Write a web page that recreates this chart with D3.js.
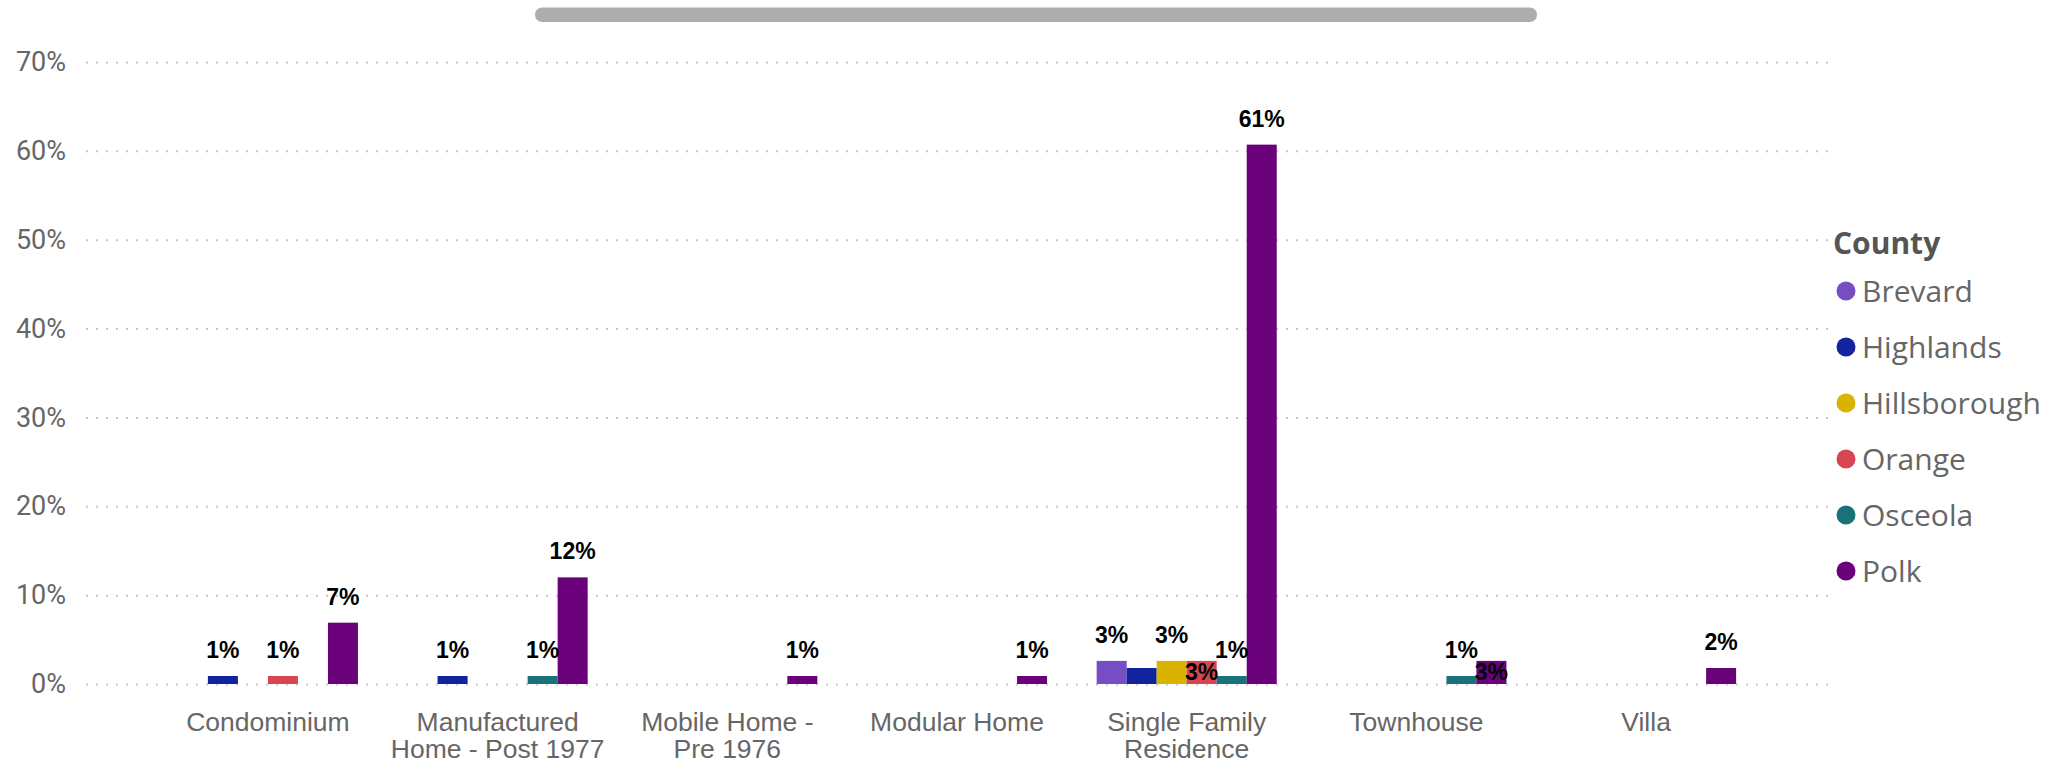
<!DOCTYPE html>
<html>
<head>
<meta charset="utf-8">
<script src="https://cdn.jsdelivr.net/npm/d3@7"></script>
<style>
  html, body { margin: 0; padding: 0; background: #fff; }
  svg { display: block; }
</style>
</head>
<body>
<svg id="chart" width="2069" height="763"></svg>
<script>
// ---- data ----
const categories = ["Condominium", "Manufactured Home - Post 1977", "Mobile Home - Pre 1976", "Modular Home", "Single Family Residence", "Townhouse", "Villa"];
const categoryLines = [["Condominium"], ["Manufactured", "Home - Post 1977"], ["Mobile Home -", "Pre 1976"], ["Modular Home"], ["Single Family", "Residence"], ["Townhouse"], ["Villa"]];
const counties = ["Brevard", "Highlands", "Hillsborough", "Orange", "Osceola", "Polk"];
const brevard      = [0,     0,     0,     0,     0.026, 0,     0];
const highlands    = [0.009, 0.009, 0,     0,     0.018, 0,     0];
const hillsborough = [0,     0,     0,     0,     0.026, 0,     0];
const orange       = [0.009, 0,     0,     0,     0.026, 0,     0];
const osceola      = [0,     0.009, 0,     0,     0.009, 0.009, 0];
const polk         = [0.069, 0.12,  0.009, 0.009, 0.607, 0.026, 0.018];
const yTicks = [0, 0.1, 0.2, 0.3, 0.4, 0.5, 0.6, 0.7];
const colors = ["#744EC2", "#12239E", "#D9B300", "#D64550", "#197278", "#6B007B"];

const seriesValues = [brevard, highlands, hillsborough, orange, osceola, polk];

// ---- layout ----
const svg = d3.select("#chart");
const plotLeft = 86, plotRight = 1828, plotTop = 62, plotBottom = 684;

// scrollbar
svg.append("rect").attr("x", 535).attr("y", 7.5).attr("width", 1002).attr("height", 14.5)
  .attr("rx", 7.25).attr("fill", "#adadad");

const x0 = d3.scaleBand().domain(categories).range([plotLeft, plotRight]).paddingInner(0.216).paddingOuter(0.4);
const x1 = d3.scaleBand().domain(counties).range([0, x0.bandwidth()]).padding(0);
const y = d3.scaleLinear().domain([0, 0.7]).range([plotBottom, plotTop]);
const color = d3.scaleOrdinal().domain(counties).range(colors);

// y axis + grid
const yAxis = svg.append("g").attr("transform", `translate(${plotLeft},0)`)
  .call(d3.axisLeft(y).tickValues(yTicks).tickFormat(d3.format(".0%"))
    .tickSize(-(plotRight - plotLeft)).tickPadding(20));
yAxis.select(".domain").remove();
yAxis.selectAll(".tick line").attr("stroke", "#c8c8c8").attr("stroke-width", 2)
  .attr("stroke-dasharray", "2,8");
yAxis.selectAll(".tick text").attr("fill", "#666").attr("font-size", 27)
  .attr("font-family", "Roboto, 'Liberation Sans', Arial, sans-serif");

// x axis
const xAxis = svg.append("g").attr("transform", `translate(0,${plotBottom})`)
  .call(d3.axisBottom(x0).tickSize(0).tickPadding(0));
xAxis.select(".domain").remove();
xAxis.selectAll(".tick text").each(function(d) {
  const t = d3.select(this);
  t.text(null).attr("y", 0).attr("dy", null)
    .attr("fill", "#666").attr("font-size", 26.5)
    .attr("font-family", "'Liberation Sans', Arial, sans-serif");
  categoryLines[categories.indexOf(d)].forEach((line, k) => {
    t.append("tspan").attr("x", 0).attr("y", 47 + k * 27).text(line);
  });
});

// bars
const data = [];
categories.forEach((c, ci) => {
  counties.forEach((s, si) => {
    const v = seriesValues[si][ci];
    if (v > 0) data.push({ cat: c, county: s, value: v });
  });
});

const barG = svg.append("g");
barG.selectAll("rect").data(data).join("rect")
  .attr("x", d => x0(d.cat) + x1(d.county))
  .attr("y", d => y(d.value))
  .attr("width", x1.bandwidth())
  .attr("height", d => plotBottom - y(d.value))
  .attr("fill", d => color(d.county));

// data labels with simple collision handling
const fmt = d3.format(".0%");
const labelG = svg.append("g");
const placed = [];
function overlaps(b) {
  return placed.some(p => b.x1 < p.x2 && b.x2 > p.x1 && b.y1 < p.y2 && b.y2 > p.y1);
}
data.forEach(d => {
  const cx = x0(d.cat) + x1(d.county) + x1.bandwidth() / 2;
  const yt = y(d.value);
  const t = labelG.append("text")
    .attr("x", cx).attr("text-anchor", "middle")
    .attr("font-family", "'Liberation Sans', Arial, sans-serif")
    .attr("font-weight", "bold").attr("font-size", 23).attr("fill", "#000")
    .text(fmt(d.value));
  const w = t.node().getComputedTextLength();
  const h = 17;
  const above = { x1: cx - w / 2, x2: cx + w / 2, y1: yt - 18 - h, y2: yt - 18 };
  if (!overlaps(above)) {
    t.attr("y", yt - 18);
    placed.push(above);
    return;
  }
  const barH = plotBottom - yt;
  if (barH >= 20) {
    t.attr("y", yt + 19);
    placed.push({ x1: cx - w / 2, x2: cx + w / 2, y1: yt + 2, y2: yt + 19 });
    return;
  }
  t.remove();
});

// legend
const lg = svg.append("g");
lg.append("text").attr("x", 1833).attr("y", 254)
  .attr("font-family", "'Segoe UI', 'Open Sans', sans-serif").attr("font-weight", "bold")
  .attr("font-size", 30).attr("fill", "#555").text("County");
const items = lg.selectAll("g.item").data(counties).join("g").attr("class", "item")
  .attr("transform", (d, i) => `translate(1846,${291 + i * 56})`);
items.append("circle").attr("r", 9.5).attr("fill", d => color(d));
items.append("text").attr("x", 16).attr("y", 11)
  .attr("font-family", "'Segoe UI', 'Open Sans', sans-serif")
  .attr("font-size", 30).attr("fill", "#666").text(d => d);
</script>
</body>
</html>
